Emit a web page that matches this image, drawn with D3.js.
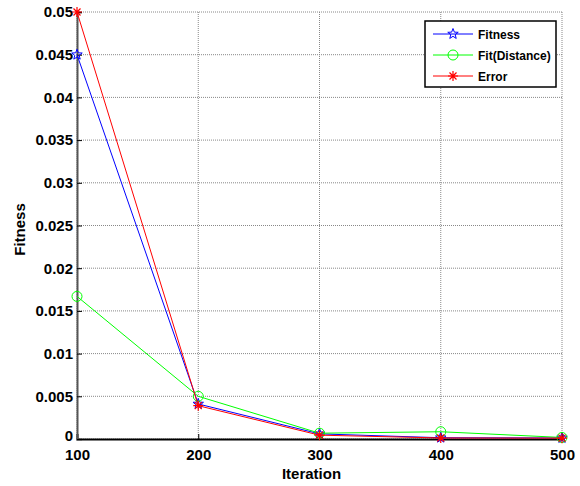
<!DOCTYPE html>
<html><head><meta charset="utf-8">
<script src="https://cdn.jsdelivr.net/npm/d3@7"></script>
<style>body{margin:0;background:#fff}svg{display:block}text{font-family:Arial,"Liberation Sans",sans-serif;font-weight:bold}</style>
</head><body><svg id="c" width="580" height="486"></svg>
<script>
const iterations = [100, 200, 300, 400, 500];
const fitness = [0.045, 0.0041, 0.0006, 0.00015, 0.00012];
const fitDistance = [0.0167, 0.0050, 0.00068, 0.00085, 0.00018];
const errorVals = [0.05, 0.0039, 0.00045, 0.00012, 0.0001];
const yTicks = [0, 0.005, 0.01, 0.015, 0.02, 0.025, 0.03, 0.035, 0.04, 0.045, 0.05];
const yTickLabels = ["0","0.005","0.01","0.015","0.02","0.025","0.03","0.035","0.04","0.045","0.05"];
const seriesNames = ["Fitness", "Fit(Distance)", "Error"];
const seriesColors = ["#0000ff", "#00ff00", "#ff0000"];
const seriesMarkers = ["star", "circle", "asterisk"];
const seriesData = [fitness, fitDistance, errorVals];

const svg = d3.select("#c");
const L = 77, R = 562, T = 12, B = 439;
const x = d3.scaleLinear().domain([100, 500]).range([L, R]);
const y = d3.scaleLinear().domain([0, 0.05]).range([B, T]);

// grid
const g = svg.append("g");
g.selectAll(".gx").data(iterations).enter().append("line")
  .attr("x1", d => x(d)).attr("x2", d => x(d)).attr("y1", T).attr("y2", B)
  .attr("stroke", "#888").attr("stroke-width", 1).attr("stroke-dasharray", "1,1");
g.selectAll(".gy").data(yTicks).enter().append("line")
  .attr("x1", L).attr("x2", R).attr("y1", d => y(d)).attr("y2", d => y(d))
  .attr("stroke", "#888").attr("stroke-width", 1).attr("stroke-dasharray", "1,1");

// axes
const xAxis = d3.axisBottom(x).tickValues(iterations).tickSize(-5).tickPadding(10).tickFormat(d3.format("d"));
const yAxis = d3.axisLeft(y).tickValues(yTicks).tickSize(-5).tickPadding(4).tickFormat((d, i) => yTickLabels[i]);
const ax = svg.append("g").attr("transform", `translate(0,${B})`).call(xAxis);
const ay = svg.append("g").attr("transform", `translate(${L},0)`).call(yAxis);
[ax, ay].forEach(a => {
  a.selectAll("text").attr("font-size", 15).attr("fill", "#000").attr("font-family", "Arial, 'Liberation Sans', sans-serif").attr("font-weight", "bold");
  a.selectAll(".tick line").attr("stroke", "#000");
});
ay.selectAll(".tick").filter(d => d === 0).select("text").attr("dy", "0.1em");
ax.select(".domain").attr("stroke", "#000").attr("stroke-width", 2);
ay.select(".domain").attr("stroke", "#555").attr("stroke-width", 2);

// markers
function drawMarker(sel, type, color, cx, cy) {
  if (type === "circle") {
    sel.append("circle").attr("cx", cx).attr("cy", cy).attr("r", 5).attr("fill", "none").attr("stroke", color).attr("stroke-width", 1);
  } else if (type === "star") {
    const pts = [];
    for (let k = 0; k < 10; k++) {
      const r = k % 2 === 0 ? 5.5 : 2.3;
      const a = -Math.PI / 2 + k * Math.PI / 5;
      pts.push([cx + r * Math.cos(a), cy + r * Math.sin(a)]);
    }
    sel.append("polygon").attr("points", pts.map(p => p.join(",")).join(" ")).attr("fill", "none").attr("stroke", color).attr("stroke-width", 1);
  } else {
    const s = 5;
    const p = `M${cx - s},${cy}L${cx + s},${cy}M${cx},${cy - s}L${cx},${cy + s}M${cx - s * 0.7},${cy - s * 0.7}L${cx + s * 0.7},${cy + s * 0.7}M${cx - s * 0.7},${cy + s * 0.7}L${cx + s * 0.7},${cy - s * 0.7}`;
    sel.append("path").attr("d", p).attr("stroke", color).attr("stroke-width", 1.2).attr("fill", "none");
  }
}

const line = d3.line().x(d => x(d[0])).y(d => y(d[1]));
seriesData.forEach((vals, si) => {
  const pts = iterations.map((it, i) => [it, vals[i]]);
  svg.append("path").attr("d", line(pts)).attr("fill", "none").attr("stroke", seriesColors[si]).attr("stroke-width", 1);
  const mg = svg.append("g");
  pts.forEach(p => drawMarker(mg, seriesMarkers[si], seriesColors[si], x(p[0]), y(p[1])));
});

// labels
svg.append("text").attr("x", (L + R) / 2 - 8).attr("y", 479).attr("text-anchor", "middle").attr("font-size", 15).text("Iteration");
svg.append("text").attr("transform", `translate(25,${(T + B) / 2 + 4}) rotate(-90)`).attr("text-anchor", "middle").attr("font-size", 15).text("Fitness");

// legend
const lg = svg.append("g");
lg.append("rect").attr("x", 425).attr("y", 21).attr("width", 131).attr("height", 66).attr("fill", "#fff").attr("stroke", "#000").attr("stroke-width", 1.5);
seriesNames.forEach((n, i) => {
  const ly = 34 + i * 21;
  lg.append("line").attr("x1", 433).attr("x2", 473).attr("y1", ly).attr("y2", ly).attr("stroke", seriesColors[i]).attr("stroke-width", 1);
  drawMarker(lg, seriesMarkers[i], seriesColors[i], 453, ly);
  lg.append("text").attr("x", 478).attr("y", ly + 4.5).attr("font-size", 12).text(n);
});
</script></body></html>
